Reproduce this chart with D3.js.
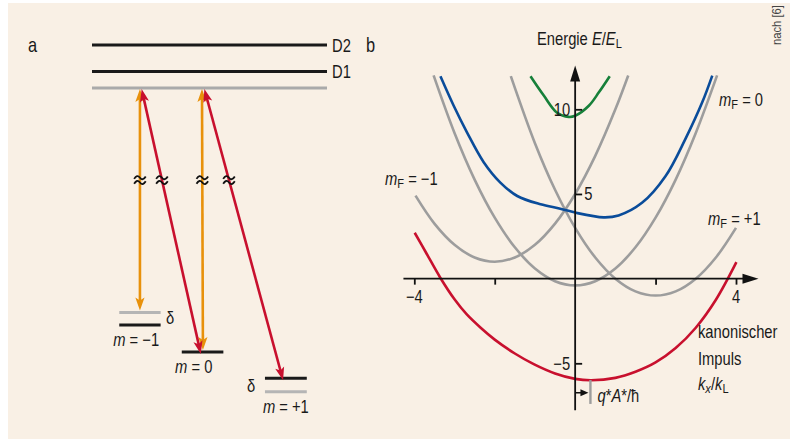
<!DOCTYPE html>
<html>
<head>
<meta charset="utf-8">
<script src="https://cdn.jsdelivr.net/npm/d3@7"></script>
<style>
  body { margin: 0; background: #fff; }
  svg { display: block; font-family: "Liberation Sans", Arial, sans-serif; }
</style>
</head>
<body>
<script>
const width = 790;
const height = 439;

// ---- panel a: level scheme (arbitrary energy units) ----
const upperNames = ["D2", "D1"];
const upperEnergy = [10, 9.24];
const virtualEnergy = 8.77;
const groundNames = ["m = \u22121", "m = 0", "m = +1"];
const groundEnergy = [2.0, 1.23, 0.48];
const groundShifted = [2.36, null, 0.09];   // grey δ-shifted levels
const groundFrom = [1.16, 3.82, 7.36];
const groundTo = [2.92, 5.59, 9.14];
const groundLabelPos = [1.88, 4.33, 8.25];
// transitions: x at top / bottom, energy at bottom
const orangeTop = [2.04, 4.68];
const orangeBottom = [2.04, 4.72];
const orangeBottomE = [2.36, 1.23];
const redTop = [2.07, 4.74];
const redBottom = [4.63, 8.13];
const redBottomE = [1.23, 0.48];
const breakEnergy = 6.14;

// ---- panel b: dispersion curves [k/kL, E/EL] ----
const greyA = [[-3.97, 4.9], [-3.5, 3.25], [-3, 2.0], [-2.5, 1.25], [-2, 1.0], [-1.5, 1.25], [-1, 2.0], [-0.5, 3.25], [0, 5.0], [0.5, 7.25], [1, 10.0], [1.32, 12.0]];
const greyB = [[-3.52, 12.0], [-3, 8.6], [-2.5, 5.85], [-2, 3.6], [-1.5, 1.85], [-1, 0.6], [-0.5, -0.15], [0, -0.4], [0.5, -0.15], [1, 0.6], [1.5, 1.85], [2, 3.6], [2.5, 5.85], [3, 8.6], [3.53, 12.0]];
const greyC = [[-1.6, 11.96], [-1, 8.0], [-0.5, 5.25], [0, 3.0], [0.5, 1.25], [1, 0.0], [1.5, -0.75], [2, -1.0], [2.5, -0.75], [3, 0.0], [3.5, 1.25], [4, 3.0]];
const redCurve = [[-3.99, 2.71], [-3.7, 1.5], [-3.35, 0.04], [-3.0, -1.22], [-2.7, -2.1], [-2.35, -2.9], [-2.0, -3.6], [-1.5, -4.42], [-1.03, -5.05], [-0.5, -5.6], [0, -5.92], [0.4, -6.0], [1.0, -5.86], [1.5, -5.5], [2.0, -4.95], [2.5, -4.1], [3.0, -2.9], [3.5, -1.25], [4.01, 0.97]];
const blueCurve = [[-3.35, 11.95], [-3.02, 10.21], [-2.69, 8.64], [-2.27, 6.86], [-1.86, 5.67], [-1.44, 4.88], [-0.86, 4.39], [-0.37, 4.13], [0.0, 3.9], [0.71, 3.62], [1.08, 3.73], [1.67, 4.49], [2.25, 6.06], [2.74, 8.24], [3.16, 10.41], [3.41, 11.99]];
const greenCurve = [[-1.11, 11.95], [-0.78, 10.81], [-0.45, 9.8], [-0.16, 9.55], [0.0, 9.62], [0.34, 10.21], [0.59, 11.0], [0.86, 11.95]];
const xTicks = [-4, -2, 2, 4];
const xLabels = [-4, 4];
const yTicks = [10, 5, -5];
const shiftQA = 0.38;

const bg = "#f9f0e5";
const cGrey = "#9d9d9d";
const cRed = "#c8102e";
const cBlue = "#0a4c9a";
const cGreen = "#17803a";
const cOrange = "#e8910b";
const fs = 18;
const squeeze = 0.82;

const svg = d3.select("body").append("svg")
  .attr("width", width)
  .attr("height", height);

svg.append("rect")
  .attr("x", 8).attr("y", 3)
  .attr("width", width - 8).attr("height", height - 3)
  .attr("fill", bg);

// condensed text: Liberation Sans squeezed horizontally
function label(parent, x, y, anchor, size) {
  return parent.append("g")
    .attr("transform", `translate(${x},${y}) scale(${squeeze},1)`)
    .append("text")
    .attr("text-anchor", anchor || "start")
    .attr("font-size", size || fs)
    .attr("fill", "#1a1a1a");
}

// ======================= panel a =======================
const xA = d3.scaleLinear().domain([0, 10]).range([92, 327]);
const yA = d3.scaleLinear().domain([0, 10]).range([395, 45]);
const ga = svg.append("g");

label(ga, 28, 52, "start", 20).text("a");

ga.selectAll(".upper")
  .data(upperEnergy)
  .enter().append("line")
  .attr("x1", xA(0)).attr("x2", xA(10))
  .attr("y1", d => yA(d)).attr("y2", d => yA(d))
  .attr("stroke", "#1a1a1a").attr("stroke-width", 3);

upperNames.forEach((n, i) => label(ga, xA(10) + 5, yA(upperEnergy[i]) + 6.5).text(n));

ga.append("line")
  .attr("x1", xA(0)).attr("x2", xA(10))
  .attr("y1", yA(virtualEnergy)).attr("y2", yA(virtualEnergy))
  .attr("stroke", "#aaaaaa").attr("stroke-width", 3);

groundEnergy.forEach((e, i) => {
  if (groundShifted[i] !== null) {
    ga.append("line")
      .attr("x1", xA(groundFrom[i])).attr("x2", xA(groundTo[i]))
      .attr("y1", yA(groundShifted[i])).attr("y2", yA(groundShifted[i]))
      .attr("stroke", "#b5b5b5").attr("stroke-width", 3);
  }
  ga.append("line")
    .attr("x1", xA(groundFrom[i])).attr("x2", xA(groundTo[i]))
    .attr("y1", yA(e)).attr("y2", yA(e))
    .attr("stroke", "#1a1a1a").attr("stroke-width", 3);
  const low = Math.max(yA(e), groundShifted[i] !== null ? yA(groundShifted[i]) : 0);
  const t = label(ga, xA(groundLabelPos[i]), low + 21, "middle");
  t.append("tspan").attr("font-style", "italic").text("m");
  t.append("tspan").text(groundNames[i].slice(1));
});

label(ga, 166, 324).text("\u03b4");
label(ga, 247, 392).text("\u03b4");

function head(g, tx, ty, fx, fy, color) {
  const len = 13, hw = 4.6;
  const dx = tx - fx, dy = ty - fy;
  const L = Math.hypot(dx, dy);
  const ux = dx / L, uy = dy / L;
  const bx = tx - ux * len, by = ty - uy * len;
  g.append("path")
    .attr("d", `M${tx},${ty}L${bx - uy * hw},${by + ux * hw}L${bx + ux * 3},${by + uy * 3}L${bx + uy * hw},${by - ux * hw}Z`)
    .attr("fill", color);
}

function doubleArrow(g, x1, y1, x2, y2, color) {
  const L = Math.hypot(x2 - x1, y2 - y1);
  const ux = (x2 - x1) / L, uy = (y2 - y1) / L;
  g.append("line")
    .attr("x1", x1 + ux * 8).attr("y1", y1 + uy * 8)
    .attr("x2", x2 - ux * 8).attr("y2", y2 - uy * 8)
    .attr("stroke", color).attr("stroke-width", 2.6);
  head(g, x1, y1, x2, y2, color);
  head(g, x2, y2, x1, y1, color);
}

function breakMark(g, x, y) {
  const w = 5.8;
  [-2.4, 2.4].forEach(o => {
    g.append("path")
      .attr("d", `M${x - w},${y + o + 1.2}q${w / 2},-4.8 ${w},-1.2t${w},-1.2`)
      .attr("fill", "none").attr("stroke", "#111").attr("stroke-width", 1.8);
  });
}

const arrows = [];
orangeTop.forEach((x, i) => arrows.push({ x1: xA(x), y1: yA(virtualEnergy) + 1, x2: xA(orangeBottom[i]), y2: yA(orangeBottomE[i]) - 2, c: cOrange }));
redTop.forEach((x, i) => arrows.push({ x1: xA(x) + 1, y1: yA(virtualEnergy) + 1, x2: xA(redBottom[i]), y2: yA(redBottomE[i]) + 2, c: cRed }));

arrows.forEach(a => doubleArrow(ga, a.x1, a.y1, a.x2, a.y2, a.c));
arrows.forEach(a => {
  const yb = yA(breakEnergy);
  const xb = a.x1 + (a.x2 - a.x1) * (yb - a.y1) / (a.y2 - a.y1);
  breakMark(ga, xb, yb);
});

// ======================= panel b =======================
const xB = d3.scaleLinear().domain([-4, 4]).range([414.3, 736]);
const yB = d3.scaleLinear().domain([-5, 10]).range([363.3, 109.3]);
const gb = svg.append("g");

label(gb, 366, 52, "start", 20).text("b");

const line = d3.line()
  .x(d => xB(d[0]))
  .y(d => yB(d[1]))
  .curve(d3.curveCatmullRom.alpha(0.5));

[greyA, greyB, greyC].forEach(c => {
  gb.append("path").datum(c)
    .attr("d", line)
    .attr("fill", "none").attr("stroke", cGrey).attr("stroke-width", 2.6);
});

[[redCurve, cRed], [blueCurve, cBlue], [greenCurve, cGreen]].forEach(([c, col]) => {
  gb.append("path").datum(c)
    .attr("d", line)
    .attr("fill", "none").attr("stroke", col).attr("stroke-width", 2.6);
});

// axes
gb.append("line")
  .attr("x1", xB(-4.27)).attr("x2", xB(4.2))
  .attr("y1", yB(0)).attr("y2", yB(0))
  .attr("stroke", "#111").attr("stroke-width", 1.8);
gb.append("path")
  .attr("d", `M${xB(4.56)},${yB(0)}l-16,-5v10z`)
  .attr("fill", "#111");

gb.append("line")
  .attr("x1", xB(0)).attr("x2", xB(0))
  .attr("y1", yB(-7.77)).attr("y2", yB(12.1))
  .attr("stroke", "#111").attr("stroke-width", 1.8);
gb.append("path")
  .attr("d", `M${xB(0)},${yB(12.58)}l-5,16h10z`)
  .attr("fill", "#111");

const xAxis = gb.append("g")
  .attr("transform", `translate(0,${yB(0)})`)
  .call(d3.axisBottom(xB).tickValues(xTicks).tickSize(6).tickFormat(""));
xAxis.select(".domain").remove();
xAxis.selectAll("line").attr("stroke", "#111").attr("stroke-width", 1.8);

xLabels.forEach(d => label(gb, xB(d), yB(0) + 24, "middle").text(d3.format("")(d)));

const yAxis = gb.append("g")
  .attr("transform", `translate(${xB(0)},0)`)
  .call(d3.axisRight(yB).tickValues(yTicks).tickSize(7).tickFormat(""));
yAxis.select(".domain").remove();
yAxis.selectAll("line").attr("stroke", "#111").attr("stroke-width", 1.8);

yTicks.forEach(d => {
  const right = d === 5;
  label(gb, right ? xB(0) + 9 : xB(0) - 5, yB(d) + 6.5, right ? "start" : "end").text(d3.format("")(d));
});

// axis titles
const et = label(gb, 537, 45);
et.append("tspan").text("Energie ");
et.append("tspan").attr("font-style", "italic").text("E");
et.append("tspan").text("/");
et.append("tspan").attr("font-style", "italic").text("E");
et.append("tspan").attr("font-size", 13.5).attr("dy", 3).text("L");

label(gb, 698, 338).text("kanonischer");
label(gb, 698, 365).text("Impuls");
const kt = label(gb, 698, 390);
kt.append("tspan").attr("font-style", "italic").text("k");
kt.append("tspan").attr("font-style", "italic").attr("font-size", 13.5).attr("dy", 3).text("x");
kt.append("tspan").attr("dy", -3).text("/");
kt.append("tspan").attr("font-style", "italic").text("k");
kt.append("tspan").attr("font-size", 13.5).attr("dy", 3).text("L");

function mfLabel(x, y, rhs) {
  const t = label(gb, x, y);
  t.append("tspan").attr("font-style", "italic").text("m");
  t.append("tspan").attr("font-size", 13.5).attr("dy", 3).text("F");
  t.append("tspan").attr("dy", -3).text(" = " + rhs);
}
mfLabel(719, 106, "0");
mfLabel(385, 185, "\u22121");
mfLabel(708, 225, "+1");

// q*A*/ħ shift marker
const yQ = yB(-6.74);
gb.append("line")
  .attr("x1", xB(shiftQA)).attr("x2", xB(shiftQA))
  .attr("y1", yB(-5.99)).attr("y2", yB(-7.4))
  .attr("stroke", cGrey).attr("stroke-width", 2.4);
gb.append("line")
  .attr("x1", xB(0)).attr("x2", xB(shiftQA) - 8)
  .attr("y1", yQ).attr("y2", yQ)
  .attr("stroke", "#111").attr("stroke-width", 1.5);
gb.append("path")
  .attr("d", `M${xB(shiftQA) - 2},${yQ}l-8,-3.5v7z`)
  .attr("fill", "#111");
const qt = label(gb, xB(shiftQA) + 7, 402);
qt.append("tspan").attr("font-style", "italic").text("q");
qt.append("tspan").text("*");
qt.append("tspan").attr("font-style", "italic").text("A");
qt.append("tspan").text("*/\u0127");

// source note
svg.append("g")
  .attr("transform", "translate(781,45) rotate(-90) scale(0.9,1)")
  .append("text")
  .attr("font-size", 12.5)
  .attr("fill", "#444")
  .text("nach [6]");
</script>
</body>
</html>
